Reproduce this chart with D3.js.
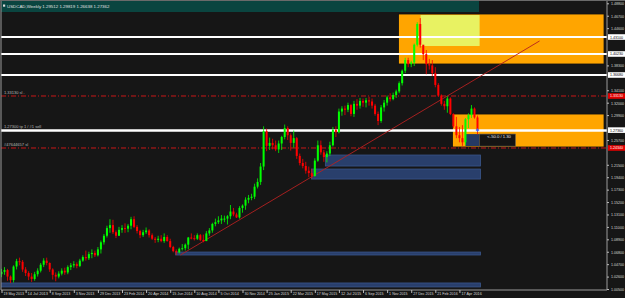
<!DOCTYPE html>
<html>
<head>
<meta charset="utf-8">
<script src="https://cdn.jsdelivr.net/npm/d3@7"></script>
<style>
    html, body { margin: 0; padding: 0; background: #161616; }
    svg { display: block; font-family: "Liberation Sans", Arial, sans-serif; }
</style>
</head>
<body>
<svg id="chart" width="625" height="298"></svg>
<script>
'use strict';

// ---- data ----
const symbolTitle = 'USDCAD,Weekly  1.29512 1.29819 1.26638 1.27362';
const firstWeek = new Date(2013, 4, 19);
const firstOpen = 1.0300;

// weekly closes / highs / lows, 19 May 2013 .. 29 May 2016
const closes = [
    1.0340, 1.0370, 1.0260, 1.0200, 1.0430, 1.0520, 1.0510, 1.0380,
    1.0320, 1.0260, 1.0220, 1.0300, 1.0360, 1.0460, 1.0530, 1.0490,
    1.0380, 1.0290, 1.0260, 1.0310, 1.0360, 1.0330, 1.0420, 1.0450,
    1.0470, 1.0440, 1.0530, 1.0590, 1.0570, 1.0640, 1.0660, 1.0620,
    1.0720, 1.0840, 1.0950, 1.1080, 1.1130, 1.1010, 1.0950, 1.1050,
    1.1080, 1.1070, 1.1120, 1.1230, 1.1100, 1.1030, 1.0960, 1.1010,
    1.1040, 1.0960, 1.0900, 1.0880, 1.0900, 1.0860, 1.0930, 1.0860,
    1.0760, 1.0690, 1.0670, 1.0730, 1.0740, 1.0800, 1.0920, 1.0910,
    1.0900, 1.0960, 1.0880, 1.0860, 1.0990, 1.1040, 1.1150, 1.1180,
    1.1210, 1.1240, 1.1240, 1.1280, 1.1360, 1.1310, 1.1260, 1.1420,
    1.1460, 1.1560, 1.1590, 1.1610, 1.1780, 1.1860, 1.2120, 1.2720,
    1.2470, 1.2520, 1.2480, 1.2410, 1.2510, 1.2620, 1.2770, 1.2650,
    1.2520, 1.2600, 1.2300, 1.2180, 1.2130, 1.2050, 1.2010, 1.1960,
    1.2220, 1.2480, 1.2360, 1.2280, 1.2340, 1.2480, 1.2740, 1.2700,
    1.3050, 1.3100, 1.3080, 1.3160, 1.3010, 1.3180, 1.3150, 1.3230,
    1.3200, 1.3240, 1.3220, 1.3150, 1.3010, 1.2890, 1.3120, 1.3200,
    1.3290, 1.3260, 1.3330, 1.3390, 1.3530, 1.3740, 1.3920, 1.3850,
    1.3880, 1.4180, 1.4530, 1.4180, 1.4020, 1.3850, 1.3830, 1.3700,
    1.3500, 1.3320, 1.3180, 1.3140, 1.3270, 1.3010, 1.2800, 1.2650,
    1.2600, 1.2530, 1.2920, 1.2990, 1.3100, 1.2951, 1.2736
];
const highs = [
    1.0390, 1.0420, 1.0390, 1.0280, 1.0450, 1.0560, 1.0580, 1.0540,
    1.0420, 1.0350, 1.0320, 1.0340, 1.0400, 1.0490, 1.0570, 1.0580,
    1.0500, 1.0400, 1.0330, 1.0350, 1.0400, 1.0410, 1.0450, 1.0490,
    1.0520, 1.0500, 1.0560, 1.0620, 1.0700, 1.0680, 1.0720, 1.0700,
    1.0760, 1.0870, 1.0980, 1.1120, 1.1230, 1.1220, 1.1040, 1.1100,
    1.1130, 1.1160, 1.1150, 1.1270, 1.1280, 1.1130, 1.1050, 1.1050,
    1.1090, 1.1060, 1.0990, 1.0930, 1.0950, 1.0960, 1.0990, 1.0960,
    1.0900, 1.0780, 1.0720, 1.0750, 1.0810, 1.0820, 1.0930, 1.0990,
    1.0960, 1.0990, 1.0980, 1.0970, 1.1030, 1.1080, 1.1170, 1.1240,
    1.1280, 1.1300, 1.1290, 1.1300, 1.1470, 1.1420, 1.1340, 1.1450,
    1.1480, 1.1600, 1.1640, 1.1660, 1.1830, 1.1920, 1.2180, 1.2800,
    1.2760, 1.2610, 1.2590, 1.2560, 1.2560, 1.2640, 1.2830, 1.2800,
    1.2680, 1.2730, 1.2620, 1.2340, 1.2250, 1.2200, 1.2120, 1.2080,
    1.2260, 1.2560, 1.2560, 1.2400, 1.2380, 1.2540, 1.2790, 1.2800,
    1.3100, 1.3140, 1.3150, 1.3200, 1.3180, 1.3230, 1.3260, 1.3280,
    1.3270, 1.3280, 1.3300, 1.3270, 1.3180, 1.3050, 1.3160, 1.3245,
    1.3320, 1.3360, 1.3370, 1.3420, 1.3560, 1.3760, 1.3960, 1.3960,
    1.3910, 1.4200, 1.4560, 1.4630, 1.4160, 1.4090, 1.3940, 1.3920,
    1.3800, 1.3530, 1.3340, 1.3230, 1.3310, 1.3290, 1.3020, 1.2960,
    1.2790, 1.2820, 1.2940, 1.3020, 1.3160, 1.3120, 1.2982
];
const lows = [
    1.0250, 1.0290, 1.0190, 1.0150, 1.0160, 1.0380, 1.0450, 1.0340,
    1.0270, 1.0200, 1.0170, 1.0190, 1.0260, 1.0330, 1.0420, 1.0450,
    1.0340, 1.0210, 1.0180, 1.0230, 1.0280, 1.0290, 1.0300, 1.0370,
    1.0410, 1.0400, 1.0420, 1.0510, 1.0530, 1.0540, 1.0570, 1.0590,
    1.0600, 1.0650, 1.0800, 1.0920, 1.1000, 1.0980, 1.0910, 1.0950,
    1.1000, 1.1000, 1.1010, 1.1060, 1.1080, 1.0990, 1.0910, 1.0930,
    1.0980, 1.0920, 1.0880, 1.0830, 1.0840, 1.0840, 1.0830, 1.0850,
    1.0740, 1.0670, 1.0625, 1.0650, 1.0700, 1.0700, 1.0720, 1.0890,
    1.0870, 1.0880, 1.0860, 1.0840, 1.0860, 1.0950, 1.1000, 1.1110,
    1.1150, 1.1150, 1.1180, 1.1140, 1.1230, 1.1280, 1.1250, 1.1240,
    1.1340, 1.1390, 1.1500, 1.1550, 1.1570, 1.1750, 1.1810, 1.2060,
    1.2380, 1.2400, 1.2410, 1.2380, 1.2350, 1.2400, 1.2580, 1.2570,
    1.2390, 1.2440, 1.2250, 1.2140, 1.2090, 1.2000, 1.1940, 1.1920,
    1.1950, 1.2200, 1.2320, 1.2200, 1.2190, 1.2300, 1.2460, 1.2620,
    1.2680, 1.2980, 1.2990, 1.3040, 1.2970, 1.2960, 1.3080, 1.3100,
    1.3130, 1.3120, 1.3150, 1.3100, 1.2980, 1.2820, 1.2860, 1.3050,
    1.3150, 1.3220, 1.3240, 1.3280, 1.3360, 1.3490, 1.3700, 1.3800,
    1.3800, 1.3820, 1.4150, 1.4130, 1.3920, 1.3680, 1.3760, 1.3650,
    1.3460, 1.3300, 1.3150, 1.3080, 1.3030, 1.2990, 1.2770, 1.2600,
    1.2530, 1.2470, 1.2480, 1.2770, 1.2940, 1.2930, 1.2664
];

// price scale labels
const priceTicks = [
    1.48800, 1.46700, 1.44600, 1.42500, 1.40400, 1.38300, 1.36200, 1.34100,
    1.32000, 1.29900, 1.27800, 1.25700, 1.23600, 1.21500, 1.19400, 1.17300,
    1.15200, 1.13100, 1.11000, 1.08900, 1.06800, 1.04700, 1.02600, 1.00500
];
const dateTickEvery = 8;

// horizontal levels
const whiteLevels = [1.4310, 1.4023, 1.3668, 1.2730];
const redLevels = [1.3313, 1.2434];
const levelNotes = ['1.33130  sl  .', '1.27300 tp 1 /  #1  sell', '#47644657 sl'];
const levelNotePrices = [1.3313, 1.2730, 1.2434];

// zones: [start week, end week, top price, bottom price]
const orangeZones = [[131.8, 200, 1.4699, 1.3854], [149.7, 200, 1.3008, 1.2451]];
const yellowZones = [[139.1, 158.7, 1.4682, 1.4158]];
const navyZones = [
    [107.5, 159, 1.2315, 1.2129],
    [102.9, 159, 1.2078, 1.1909],
    [57.8, 159, 1.0675, 1.0625],
    [-2, 159, 1.0152, 1.0085]
];
const tradeZone = [154, 158.6, 1.2669, 1.2466];
const tradeNote = '<-50.0 / 1.30';

// trend line: [week, price]
const trendLine = [[59.4, 1.0625], [178.6, 1.4243]];

// ---- layout ----
const W = 625, H = 298;
const plotL = 1, plotR = 607, plotB = 290, plotT = 1;

const svg = d3.select('#chart');
svg.append('rect').attr('width', W).attr('height', H).attr('fill', '#161616');

const x = d3.scaleLinear().domain([0, 158]).range([1.5, 477.5]);
const y = d3.scaleLinear().domain([1.0045, 1.4880]).range([289.3, 3.3]);

svg.append('defs').append('clipPath').attr('id', 'plot')
    .append('rect')
    .attr('x', plotL).attr('y', plotT)
    .attr('width', plotR - plotL).attr('height', plotB - plotT);

const plot = svg.append('g').attr('clip-path', 'url(#plot)');

const zoneRect = (g, z, fill, stroke) => {
    g.append('rect')
        .attr('x', x(z[0]))
        .attr('y', y(z[2]))
        .attr('width', x(z[1]) - x(z[0]))
        .attr('height', y(z[3]) - y(z[2]))
        .attr('fill', fill)
        .attr('stroke', stroke)
        .attr('stroke-width', 0.8);
};

// title bar
plot.append('rect')
    .attr('x', plotL).attr('y', 1)
    .attr('width', 478).attr('height', 11)
    .attr('fill', '#0a4540');

orangeZones.forEach((z) => zoneRect(plot, z, '#ffa500', '#111'));
yellowZones.forEach((z) => zoneRect(plot, z, '#e8f262', 'none'));
navyZones.forEach((z) => zoneRect(plot, z, '#293f6c', '#3a568c'));
zoneRect(plot, tradeZone, '#263a63', 'none');

// trade info box
plot.append('rect')
    .attr('x', x(tradeZone[1])).attr('y', y(tradeZone[2]))
    .attr('width', 36).attr('height', y(tradeZone[3]) - y(tradeZone[2]))
    .attr('fill', '#141414').attr('stroke', '#555').attr('stroke-width', 0.6);
plot.append('text')
    .attr('x', x(tradeZone[1]) + 8).attr('y', y(tradeZone[2]) + 4)
    .attr('font-size', 4.2).attr('fill', '#e8e8e8')
    .text(tradeNote);

// red dash-dot levels
plot.selectAll('.red-level')
    .data(redLevels)
    .enter()
    .append('line')
    .attr('class', 'red-level')
    .attr('x1', plotL).attr('x2', plotR)
    .attr('y1', (d) => y(d)).attr('y2', (d) => y(d))
    .attr('stroke', '#c81818')
    .attr('stroke-width', 1)
    .attr('stroke-dasharray', '5,2,1,2');

// white levels
plot.selectAll('.white-level')
    .data(whiteLevels)
    .enter()
    .append('line')
    .attr('class', 'white-level')
    .attr('x1', plotL).attr('x2', plotR)
    .attr('y1', (d) => y(d)).attr('y2', (d) => y(d))
    .attr('stroke', '#ffffff')
    .attr('stroke-width', (d, i) => i === whiteLevels.length - 1 ? 2.6 : 2);

// notes above levels at the left
plot.selectAll('.note')
    .data(levelNotes)
    .enter()
    .append('text')
    .attr('class', 'note')
    .attr('x', 4)
    .attr('y', (d, i) => y(levelNotePrices[i]) - 2)
    .attr('font-size', 4)
    .attr('fill', '#b8b8b8')
    .text((d) => d);

// trend line
plot.append('line')
    .attr('x1', x(trendLine[0][0])).attr('y1', y(trendLine[0][1]))
    .attr('x2', x(trendLine[1][0])).attr('y2', y(trendLine[1][1]))
    .attr('stroke', '#b42020')
    .attr('stroke-width', 0.9);

// candles
const candles = closes.map((c, i) => ({
    i,
    open: i === 0 ? firstOpen : closes[i - 1],
    close: c,
    high: highs[i],
    low: lows[i]
}));

const candle = plot.selectAll('.candle')
    .data(candles)
    .enter()
    .append('g')
    .attr('class', 'candle');

const colorOf = (d) => d.close >= d.open ? '#00ff00' : '#ff0000';

candle.append('line')
    .attr('x1', (d) => x(d.i)).attr('x2', (d) => x(d.i))
    .attr('y1', (d) => y(d.high)).attr('y2', (d) => y(d.low))
    .attr('stroke', colorOf)
    .attr('stroke-width', 0.8);

candle.append('rect')
    .attr('x', (d) => x(d.i) - 1)
    .attr('y', (d) => y(Math.max(d.open, d.close)))
    .attr('width', 2)
    .attr('height', (d) => Math.max(1, Math.abs(y(d.open) - y(d.close))))
    .attr('fill', colorOf);

// current price marker
plot.append('path')
    .attr('d', d3.symbol(d3.symbolCross, 6)())
    .attr('transform', `translate(${x(158)},${y(closes[158])})`)
    .attr('fill', '#3a6cff');

// title text
svg.append('rect').attr('x', 3).attr('y', 4.5).attr('width', 2.2).attr('height', 2.2).attr('fill', '#ddd');
svg.append('text')
    .attr('x', 7).attr('y', 8)
    .attr('font-size', 4.4)
    .attr('fill', '#e0e0e0')
    .text(symbolTitle);

// frame
svg.append('line').attr('x1', 0).attr('x2', W).attr('y1', 0.5).attr('y2', 0.5).attr('stroke', '#6a6a6a');
svg.append('path')
    .attr('d', `M${plotL},${plotT}V${plotB}H${plotR}V${plotT}`)
    .attr('fill', 'none')
    .attr('stroke', '#9a9a9a')
    .attr('stroke-width', 1);

// highlighted level labels on the price axis
const tagLevels = whiteLevels.slice(0, 3).map((p) => ({ p, bg: '#ffffff', fg: '#000' }))
    .concat([{ p: closes[158], bg: '#ffffff', fg: '#000' }])
    .concat(redLevels.map((p) => ({ p, bg: '#e00000', fg: '#fff' })));

// price axis, hiding labels that would sit under a tag
const freeTicks = priceTicks.filter((t) => tagLevels.every((g) => Math.abs(y(t) - y(g.p)) > 5.5));
const yAxis = d3.axisRight(y)
    .tickValues(freeTicks)
    .tickSize(2)
    .tickPadding(2)
    .tickFormat(d3.format('.5f'));

const yAxisG = svg.append('g')
    .attr('transform', `translate(${plotR},0)`)
    .call(yAxis);
yAxisG.select('.domain').remove();
yAxisG.selectAll('line').attr('stroke', '#bbb');
yAxisG.selectAll('text')
    .attr('font-size', 4.2)
    .attr('fill', '#d8d8d8')
    .attr('textLength', 13)
    .attr('lengthAdjust', 'spacingAndGlyphs');

const tag = svg.selectAll('.tag')
    .data(tagLevels)
    .enter()
    .append('g')
    .attr('class', 'tag')
    .attr('transform', (d) => `translate(${plotR + 1},${y(d.p)})`);
tag.append('rect')
    .attr('x', 0).attr('y', -2.8)
    .attr('width', 17).attr('height', 5.6)
    .attr('fill', (d) => d.bg);
tag.append('text')
    .attr('x', 2).attr('y', 1.5)
    .attr('font-size', 4.2)
    .attr('fill', (d) => d.fg)
    .attr('textLength', 13)
    .attr('lengthAdjust', 'spacingAndGlyphs')
    .text((d) => d3.format('.5f')(d.p));

// date axis
const dateTicks = d3.range(0, closes.length, dateTickEvery);
const fmtDate = d3.timeFormat('%-d %b %Y');
const xAxis = d3.axisBottom(x)
    .tickValues(dateTicks)
    .tickSize(3)
    .tickFormat((i) => fmtDate(d3.timeWeek.offset(firstWeek, i)));

const xAxisG = svg.append('g')
    .attr('transform', `translate(0,${plotB})`)
    .call(xAxis);
xAxisG.select('.domain').remove();
xAxisG.selectAll('line').attr('stroke', '#bbb');
xAxisG.selectAll('text')
    .attr('font-size', 4.2)
    .attr('fill', '#d8d8d8')
    .attr('text-anchor', 'start')
    .attr('dx', 1.5)
    .attr('y', 2.5)
    .attr('textLength', (i) => fmtDate(d3.timeWeek.offset(firstWeek, i)).length * 1.85)
    .attr('lengthAdjust', 'spacingAndGlyphs');
</script>
</body>
</html>
